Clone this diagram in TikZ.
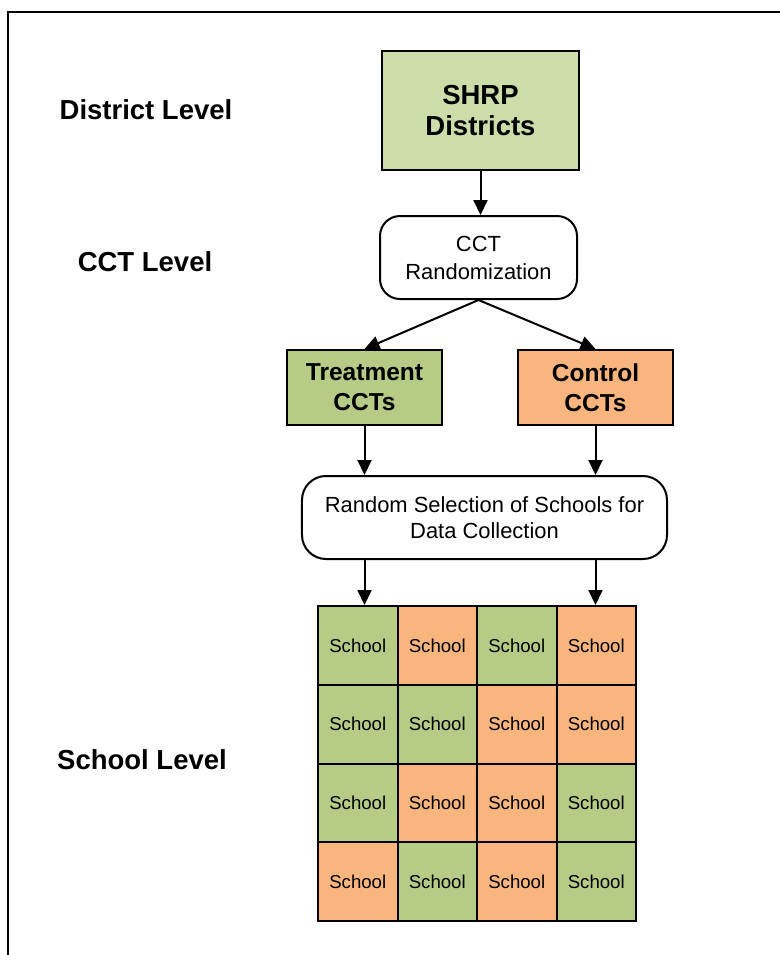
\documentclass[tikz,border=0pt]{standalone}
\usepackage{fontspec}
\setmainfont{Liberation Sans}
\usepackage{tikz}
\usetikzlibrary{arrows.meta,positioning}
\definecolor{districtgreen}{RGB}{204,221,170}
\definecolor{tgreen}{RGB}{182,203,134}
\definecolor{corange}{RGB}{248,181,126}
\tikzstyle{level} = [font=\bfseries\fontsize{13.8}{16}\selectfont]
\tikzstyle{group box} = [draw, line width=1bp, inner sep=0pt, align=center]
\tikzstyle{process} = [group box, rounded corners=10bp, font=\fontsize{11}{14}\selectfont]
\tikzstyle{arrow} = [draw, line width=1bp, -{Triangle[length=7.5bp,width=7bp]}]
\tikzstyle{school} = [draw, line width=1bp, minimum width=39.75bp, minimum height=39.375bp, inner sep=0pt, font=\fontsize{9.35}{11}\selectfont]

\begin{document}
\begin{tikzpicture}[x=0.5bp, y=-0.5bp]
    \useasboundingbox (0,0) rectangle (780,955);
    % frame, cut off at the right and bottom
    \draw[line width=1bp] (8,955) -- (8,12) -- (780,12);

    % level labels
    \node[level] (dlevel) at (146,110) {District Level};
    \node[level] (clevel) at (145,262) {CCT Level};
    \node[level] (slevel) at (142,760) {School Level};

    % flow boxes
    \node[group box, fill=districtgreen, minimum width=98.5bp, minimum height=59.5bp,
          font=\bfseries\fontsize{13.8}{15.5}\selectfont] (districts) at (480.5,110.5) {SHRP\\Districts};
    \node[process, minimum width=98.5bp, minimum height=41.5bp] (cctrand) at (478.5,257.5) {CCT\\Randomization};
    \node[group box, fill=tgreen, minimum width=77.5bp, minimum height=37.5bp,
          font=\bfseries\fontsize{12.3}{15}\selectfont] (treat) at (364.5,387.5) {Treatment\\CCTs};
    \node[group box, fill=corange, minimum width=77.5bp, minimum height=37.5bp,
          font=\bfseries\fontsize{12.3}{15}\selectfont] (ctrl) at (595.5,387.5) {Control\\CCTs};
    \node[process, rounded corners=12bp, minimum width=182.5bp, minimum height=41.5bp,
          font=\fontsize{11}{13}\selectfont] (select) at (484.5,517.5) {Random Selection of Schools for\\Data Collection};

    % 4x4 grid of schools
    \foreach \r/\a/\b/\c/\d in {1/tgreen/corange/tgreen/corange, 2/tgreen/tgreen/corange/corange,
                                 3/tgreen/corange/corange/tgreen, 4/corange/tgreen/corange/tgreen}
        \foreach \col/\f in {1/\a, 2/\b, 3/\c, 4/\d}
            \node[school, fill=\f] (s\r\col) at ({318+79.5*(\col-0.5)}, {606+78.75*(\r-0.5)}) {School};

    % connectors
    \path[arrow] (districts) -- (districts |- cctrand.north);
    \path[arrow] (cctrand.south) -- (treat.north);
    \path[arrow] (cctrand.south) -- (ctrl.north);
    \path[arrow] (treat.south) -- (treat.south |- select.north);
    \path[arrow] (ctrl.south) -- (ctrl.south |- select.north);
    \path[arrow] (treat.south |- select.south) -- (treat.south |- s11.north);
    \path[arrow] (ctrl.south |- select.south) -- (ctrl.south |- s14.north);
\end{tikzpicture}
\end{document}
